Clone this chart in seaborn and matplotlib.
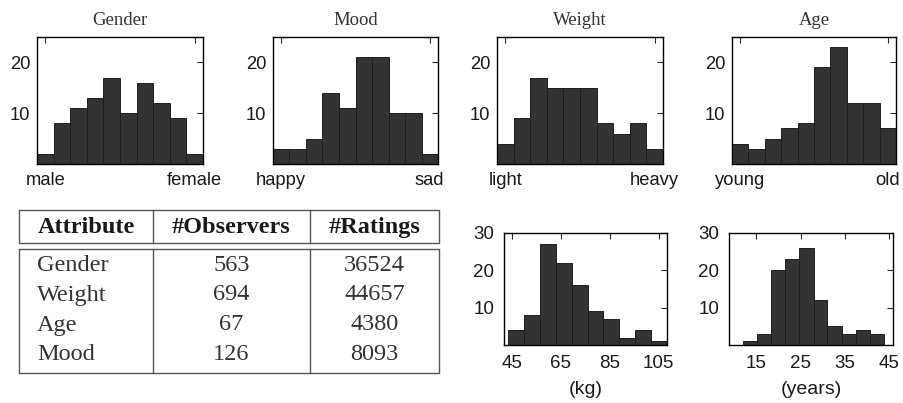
import numpy as np
import pandas as pd
import matplotlib
matplotlib.use("Agg")
import matplotlib.pyplot as plt
import seaborn as sns

# ---------------- data ----------------
gender_counts = [2, 8, 11, 13, 17, 10, 16, 12, 9, 2]
mood_counts = [3, 3, 5, 14, 11, 21, 21, 10, 10, 2]
weight_counts = [4, 9, 17, 15, 15, 15, 8, 6, 8, 3]
age_counts = [4, 3, 5, 7, 8, 19, 23, 12, 12, 7]
top_titles = ["Gender", "Mood", "Weight", "Age"]
top_end_labels = [("male", "female"), ("happy", "sad"), ("light", "heavy"), ("young", "old")]
top_edges = [0, 1, 2, 3, 4, 5, 6, 7, 8, 9, 10]

kg_edges = [43.4, 49.9, 56.4, 62.9, 69.4, 75.9, 82.4, 88.9, 95.4, 101.9, 108.4]
kg_counts = [4, 8, 27, 22, 16, 9, 7, 2, 4, 1]
kg_ticks = [45, 65, 85, 105]
kg_label = "(kg)"

years_edges = [12.0, 15.2, 18.3, 21.5, 24.7, 27.9, 31.0, 34.2, 37.4, 40.5, 43.7]
years_counts = [1, 3, 20, 23, 26, 12, 5, 3, 4, 3]
years_ticks = [15, 25, 35, 45]
years_label = "(years)"

table_header = ["Attribute", "#Observers", "#Ratings"]
table_attributes = ["Gender", "Weight", "Age", "Mood"]
table_observers = [563, 694, 67, 126]
table_ratings = [36524, 44657, 4380, 8093]

# ---------------- style ----------------
sns.set_style("white")
plt.rcParams["font.family"] = ["Liberation Sans", "DejaVu Sans"]
SERIF = ["Liberation Serif", "DejaVu Serif"]
BAR = "#333333"
EDGE = "#1f1f1f"
TXT = "#1a1a1a"

W, H = 904, 403
fig = plt.figure(figsize=(W / 100, H / 100), dpi=100)


def px_axes(l, t, r, b):
    return fig.add_axes([l / W, 1 - b / H, (r - l) / W, (b - t) / H])


def draw_hist(ax, edges, counts):
    e = [float(v) for v in edges]
    centers = [(e[i] + e[i + 1]) / 2 for i in range(len(e) - 1)]
    df = pd.DataFrame({"x": centers, "w": [float(c) for c in counts]})
    sns.histplot(data=df, x="x", weights="w", bins=e, ax=ax, color=BAR,
                 edgecolor=EDGE, linewidth=0.7, alpha=1.0, stat="count")
    ax.set_xlabel("")
    ax.set_ylabel("")
    for s in ax.spines.values():
        s.set_visible(True)
        s.set_color("black")
        s.set_linewidth(1.0)


# ---------------- top row ----------------
top_boxes = [(37, 37, 203, 164), (273, 37, 438, 164), (497, 37, 663, 164), (732, 37, 896, 164)]
for box, counts, title, (lo, hi) in zip(top_boxes,
                                        [gender_counts, mood_counts, weight_counts, age_counts],
                                        top_titles, top_end_labels):
    ax = px_axes(*box)
    draw_hist(ax, top_edges, counts)
    ax.set_xlim(top_edges[0], top_edges[-1])
    ax.set_ylim(0, 25)
    ax.set_yticks([10, 20])
    ax.set_xticks([0.5, 9.5], [lo, hi])
    ax.tick_params(axis="both", direction="in", top=True, right=True,
                   length=4, width=0.8, labelsize=13.2, labelcolor=TXT)
    ax.tick_params(axis="x", pad=6)
    ax.tick_params(axis="y", pad=5)
    ax.set_title(title, family=SERIF, fontsize=13.5, color="#333333", pad=9)

# ---------------- bottom row ----------------
ax = px_axes(504, 233, 667, 345)
draw_hist(ax, kg_edges, kg_counts)
ax.set_xlim(41.7, 108.4)
ax.set_ylim(0, 30)
ax.set_yticks([10, 20, 30])
ax.set_xticks(kg_ticks)
ax.tick_params(axis="both", direction="in", top=True, right=True,
               length=4, width=0.8, labelsize=13.5, labelcolor=TXT)
ax.tick_params(axis="x", pad=7)
ax.tick_params(axis="y", pad=7)
ax.set_xlabel(kg_label, fontsize=14, color=TXT, labelpad=7)

ax = px_axes(729, 233, 893, 345)
draw_hist(ax, years_edges, years_counts)
ax.set_xlim(8.8, 45.8)
ax.set_ylim(0, 30)
ax.set_yticks([10, 20, 30])
ax.set_xticks(years_ticks)
ax.tick_params(axis="both", direction="in", top=True, right=True,
               length=4, width=0.8, labelsize=13.5, labelcolor=TXT)
ax.tick_params(axis="x", pad=7)
ax.tick_params(axis="y", pad=7)
ax.set_xlabel(years_label, fontsize=14, color=TXT, labelpad=7)

# ---------------- table ----------------
tax = fig.add_axes([0, 0, 1, 1], zorder=-1)
tax.set_xlim(0, W)
tax.set_ylim(H, 0)
tax.axis("off")
LC = "#555555"
LW = 1.0
col_x = [19, 153, 310, 439]
hdr_t, hdr_b = 210, 243
body_t, body_b = 249, 373
for (t, b) in [(hdr_t, hdr_b), (body_t, body_b)]:
    tax.plot([col_x[0], col_x[-1]], [t, t], color=LC, lw=LW)
    tax.plot([col_x[0], col_x[-1]], [b, b], color=LC, lw=LW)
    for cx in col_x:
        tax.plot([cx, cx], [t, b], color=LC, lw=LW)

col_centers = [(col_x[i] + col_x[i + 1]) / 2 for i in range(3)]
for cx, h in zip(col_centers, table_header):
    tax.text(cx, 233, h, family=SERIF, fontsize=17.5, fontweight="bold",
             ha="center", va="baseline", color=TXT)

row_base = [271, 300.5, 330.5, 360.5]
for y, a, o, r in zip(row_base, table_attributes, table_observers, table_ratings):
    tax.text(37, y, a, family=SERIF, fontsize=17.5, ha="left", va="baseline", color="#333333")
    tax.text(col_centers[1], y, str(o), family=SERIF, fontsize=17.5, ha="center", va="baseline", color="#333333")
    tax.text(col_centers[2], y, str(r), family=SERIF, fontsize=17.5, ha="center", va="baseline", color="#333333")

fig.savefig("out.png", dpi=100)
